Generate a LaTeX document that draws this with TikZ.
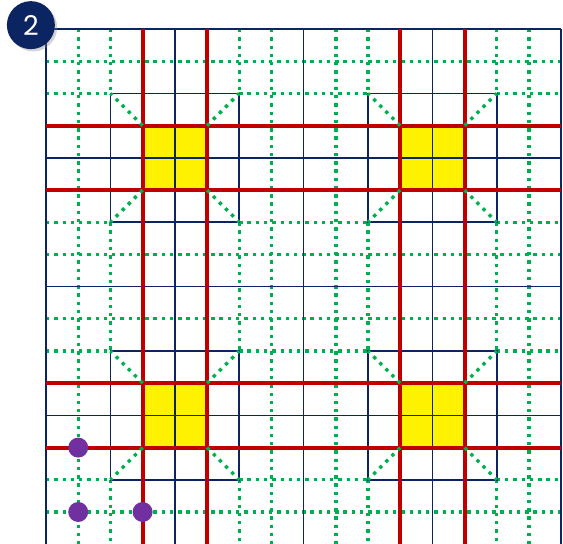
\documentclass[tikz,border=0pt]{standalone}
\usepackage{fontspec}
\newfontfamily\badgefont{Poppins}
\usetikzlibrary{shadows}

\definecolor{navy}{HTML}{0B2462}
\definecolor{gridred}{HTML}{C00000}
\definecolor{gridgreen}{HTML}{00B050}
\definecolor{dotpurple}{HTML}{7030A0}

\begin{document}
\begin{tikzpicture}[y=-1cm,
    greendot/.style={gridgreen, line width=3pt, dash pattern=on 3pt off 4.3pt},
    blueline/.style={navy, line width=1.4pt},
    redline/.style={gridred, line width=3.5pt},
    purpledot/.style={circle, fill=dotpurple, minimum size=0.62cm, inner sep=0pt}]
    \useasboundingbox (-1.429,-0.901) rectangle (16.056,15.994);

    % Dotted green lines (full ones)
    \foreach \k in {1,7,9,15} {
        \draw[greendot] (\k,0) -- (\k,16);
        \draw[greendot] (0,\k) -- (16,\k);
    }
    % Dotted green lines, broken where the boxes are
    \foreach \k in {2,6,10,14}
        \foreach \a/\b in {0/2,6/10,14/16} {
            \draw[greendot] (\k,\a) -- (\k,\b);
            \draw[greendot] (\a,\k) -- (\b,\k);
        }

    % Yellow squares and their boxes
    \foreach \cx/\cy in {4/4, 12/4, 4/12, 12/12} {
        \fill[yellow] (\cx-1,\cy-1) rectangle (\cx+1,\cy+1);
        \draw[blueline] (\cx-2,\cy-2) rectangle (\cx+2,\cy+2);
    }

    % Solid blue lines
    \foreach \k in {0,4,...,16}
        \draw[blueline] (\k,0) -- (\k,16);
    \foreach \k in {0,4,8,12}
        \draw[blueline] (0,\k) -- (16,\k);

    % Red lines
    \foreach \k in {3,5,11,13} {
        \draw[redline] (\k,0) -- (\k,16);
        \draw[redline] (0,\k) -- (16,\k);
    }

    % Diagonals from box corners to square corners
    \foreach \cx/\cy in {4/4, 12/4, 4/12, 12/12}
        \foreach \sx/\sy in {-1/-1, 1/-1, -1/1, 1/1}
            \draw[greendot, dash pattern=on 3pt off 4.6pt]
                (\cx+\sx,\cy+\sy) -- (\cx+2*\sx,\cy+2*\sy);

    % Purple dots
    \foreach \x/\y/\name in {1/13/pa, 1/15/pb, 3/15/pc}
        \node[purpledot] (\name) at (\x,\y) {};

    % Badge
    \node[circle, fill=navy, minimum size=1.49cm, inner sep=0pt,
          drop shadow={opacity=0.35, shadow xshift=2pt, shadow yshift=-2pt},
          text=white, font=\badgefont\fontsize{24}{24}\selectfont]
        (badge) at (-0.47,-0.12) {2};
\end{tikzpicture}
\end{document}
